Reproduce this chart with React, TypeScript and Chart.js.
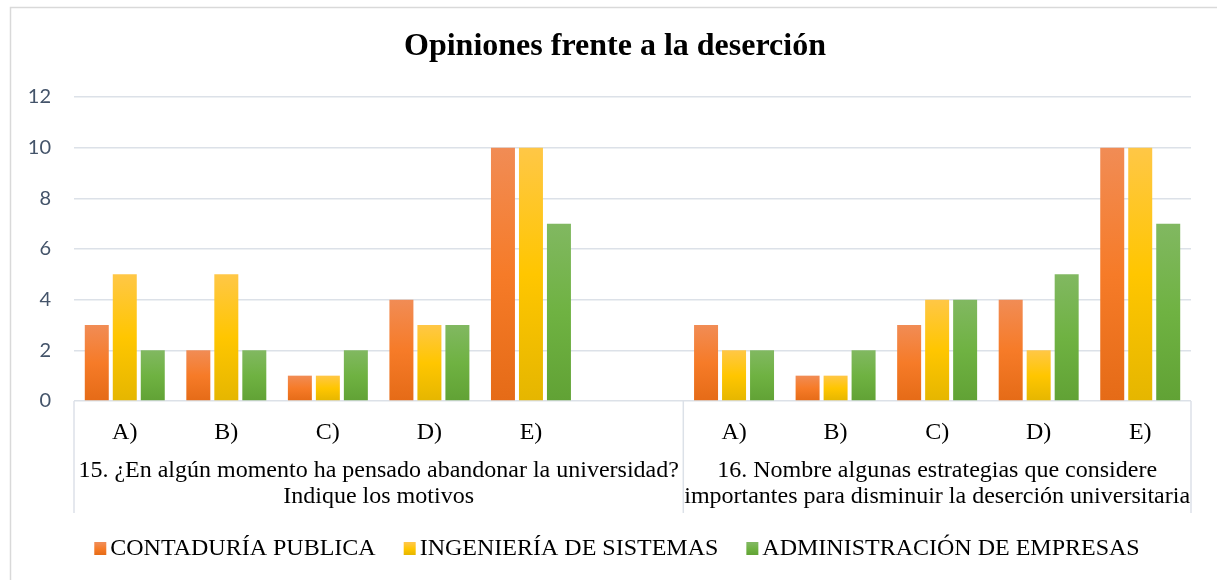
import React, { useEffect, useRef } from "react";
import { Chart, registerables } from "chart.js";

Chart.register(...registerables);

const chartTitle = "Opiniones frente a la deserción";
const categories = ["A)", "B)", "C)", "D)", "E)", "", "A)", "B)", "C)", "D)", "E)"];
const groupLabels = [
  ["15. ¿En algún momento ha pensado abandonar la universidad?", "Indique los motivos"],
  ["16. Nombre algunas estrategias que considere", "importantes para disminuir la deserción universitaria"],
];
const groupRanges = [
  [0, 5],
  [6, 10],
];
const seriesNames = ["CONTADURÍA PUBLICA", "INGENIERÍA DE SISTEMAS", "ADMINISTRACIÓN DE EMPRESAS"];
const contaduria = [3, 2, 1, 4, 10, null, 3, 1, 3, 4, 10];
const ingenieria = [5, 5, 1, 3, 10, null, 2, 1, 4, 2, 10];
const administracion = [2, 2, 2, 3, 7, null, 2, 2, 4, 5, 7];
const yMin = 0;
const yMax = 12;
const yStep = 2;

const gradients = [
  ["#F18C55", "#F67B28", "#E56B17"],
  ["#FFC746", "#FFC600", "#E5B600"],
  ["#81B861", "#6FB242", "#61A235"],
];

const SERIF = '"Liberation Serif", "Times New Roman", serif';
const GRID = "#DCE1E8";

function barFill(idx: number) {
  return (c: any) => {
    const chart = c.chart;
    const stops = gradients[idx];
    if (c.type !== "data" || !chart.chartArea || c.raw == null) return stops[1];
    const y = chart.scales.y;
    const top = y.getPixelForValue(c.raw);
    const bottom = y.getPixelForValue(0);
    if (!isFinite(top) || !isFinite(bottom) || top === bottom) return stops[1];
    const g = chart.ctx.createLinearGradient(0, top, 0, bottom);
    g.addColorStop(0, stops[0]);
    g.addColorStop(0.5, stops[1]);
    g.addColorStop(1, stops[2]);
    return g;
  };
}

const decorations = {
  id: "decorations",
  afterDraw(chart: any) {
    const ctx = chart.ctx;
    const area = chart.chartArea;
    const xs = chart.scales.x;
    ctx.save();

    // outer border
    ctx.strokeStyle = "#D9D9D9";
    ctx.lineWidth = 1.5;
    ctx.strokeRect(10.5, 7.5, 1300, 700);

    // title
    ctx.fillStyle = "#000";
    ctx.font = `bold 32px ${SERIF}`;
    ctx.textAlign = "center";
    ctx.textBaseline = "middle";
    ctx.fillText(chartTitle, 615, 47);

    // category divider lines and group labels
    const half = (xs.getPixelForValue(1) - xs.getPixelForValue(0)) / 2;
    const axisBottom = 513;
    ctx.strokeStyle = GRID;
    ctx.lineWidth = 1.5;
    const bounds: number[] = [];
    groupRanges.forEach(([a, b]) => {
      bounds.push(xs.getPixelForValue(a) - half);
      bounds.push(xs.getPixelForValue(b) + half);
    });
    const uniq = Array.from(new Set(bounds.map((v) => Math.round(v * 10) / 10)));
    uniq.forEach((x) => {
      ctx.beginPath();
      ctx.moveTo(x, area.bottom);
      ctx.lineTo(x, axisBottom);
      ctx.stroke();
    });

    ctx.fillStyle = "#000";
    ctx.font = `24px ${SERIF}`;
    groupRanges.forEach(([a, b], gi) => {
      const cx = (xs.getPixelForValue(a) - half + xs.getPixelForValue(b) + half) / 2;
      groupLabels[gi].forEach((line, li) => {
        ctx.fillText(line, cx, 471 + li * 26);
      });
    });

    // legend
    ctx.font = `24px ${SERIF}`;
    const box = 12;
    const gapText = 4;
    const gapItem = 28;
    const widths = seriesNames.map((n) => ctx.measureText(n).width);
    const total = widths.reduce((s, w) => s + box + gapText + w, 0) + gapItem * (seriesNames.length - 1);
    let x = 617 - total / 2;
    const ly = 549;
    ctx.textAlign = "left";
    seriesNames.forEach((name, i) => {
      const g = ctx.createLinearGradient(0, ly - box / 2, 0, ly + box / 2);
      g.addColorStop(0, gradients[i][0]);
      g.addColorStop(0.5, gradients[i][1]);
      g.addColorStop(1, gradients[i][2]);
      ctx.fillStyle = g;
      ctx.fillRect(x, ly - box / 2 - 1, box, box + 1);
      ctx.fillStyle = "#000";
      ctx.fillText(name, x + box + gapText, ly);
      x += box + gapText + widths[i] + gapItem;
    });

    ctx.restore();
  },
};

export default function App() {
  const ref = useRef<HTMLCanvasElement | null>(null);

  useEffect(() => {
    document.body.style.margin = "0";
    const canvas = ref.current;
    if (!canvas) return;
    const chart = new Chart(canvas, {
      type: "bar",
      data: {
        labels: categories,
        datasets: [
          { label: seriesNames[0], data: contaduria, backgroundColor: barFill(0) },
          { label: seriesNames[1], data: ingenieria, backgroundColor: barFill(1) },
          { label: seriesNames[2], data: administracion, backgroundColor: barFill(2) },
        ],
      },
      options: {
        responsive: false,
        animation: false,
        devicePixelRatio: 1,
        layout: { padding: { top: 97, right: 26, bottom: 0, left: 0 } },
        datasets: {
          bar: { barPercentage: 0.857, categoryPercentage: 0.827 },
        },
        plugins: {
          legend: { display: false },
          title: { display: false },
          tooltip: { enabled: false },
        },
        scales: {
          x: {
            grid: { display: false },
            border: { display: false },
            ticks: {
              autoSkip: false,
              maxRotation: 0,
              minRotation: 0,
              padding: 9,
              color: "#000",
              font: { family: SERIF, size: 24 },
            },
            afterFit(scale: any) {
              scale.height = 179;
            },
          },
          y: {
            min: yMin,
            max: yMax,
            border: { display: false },
            grid: { color: GRID, lineWidth: 1.5, drawTicks: false },
            ticks: {
              stepSize: yStep,
              padding: 23,
              color: "#44546A",
              font: { family: "Lato", size: 20 },
            },
            afterFit(scale: any) {
              scale.width = 74;
            },
          },
        },
      },
      plugins: [decorations],
    });
    return () => chart.destroy();
  }, []);

  return (
    <div style={{ width: 1217, height: 580, background: "#fff" }}>
      <canvas ref={ref} width={1217} height={580} style={{ display: "block" }} />
    </div>
  );
}
